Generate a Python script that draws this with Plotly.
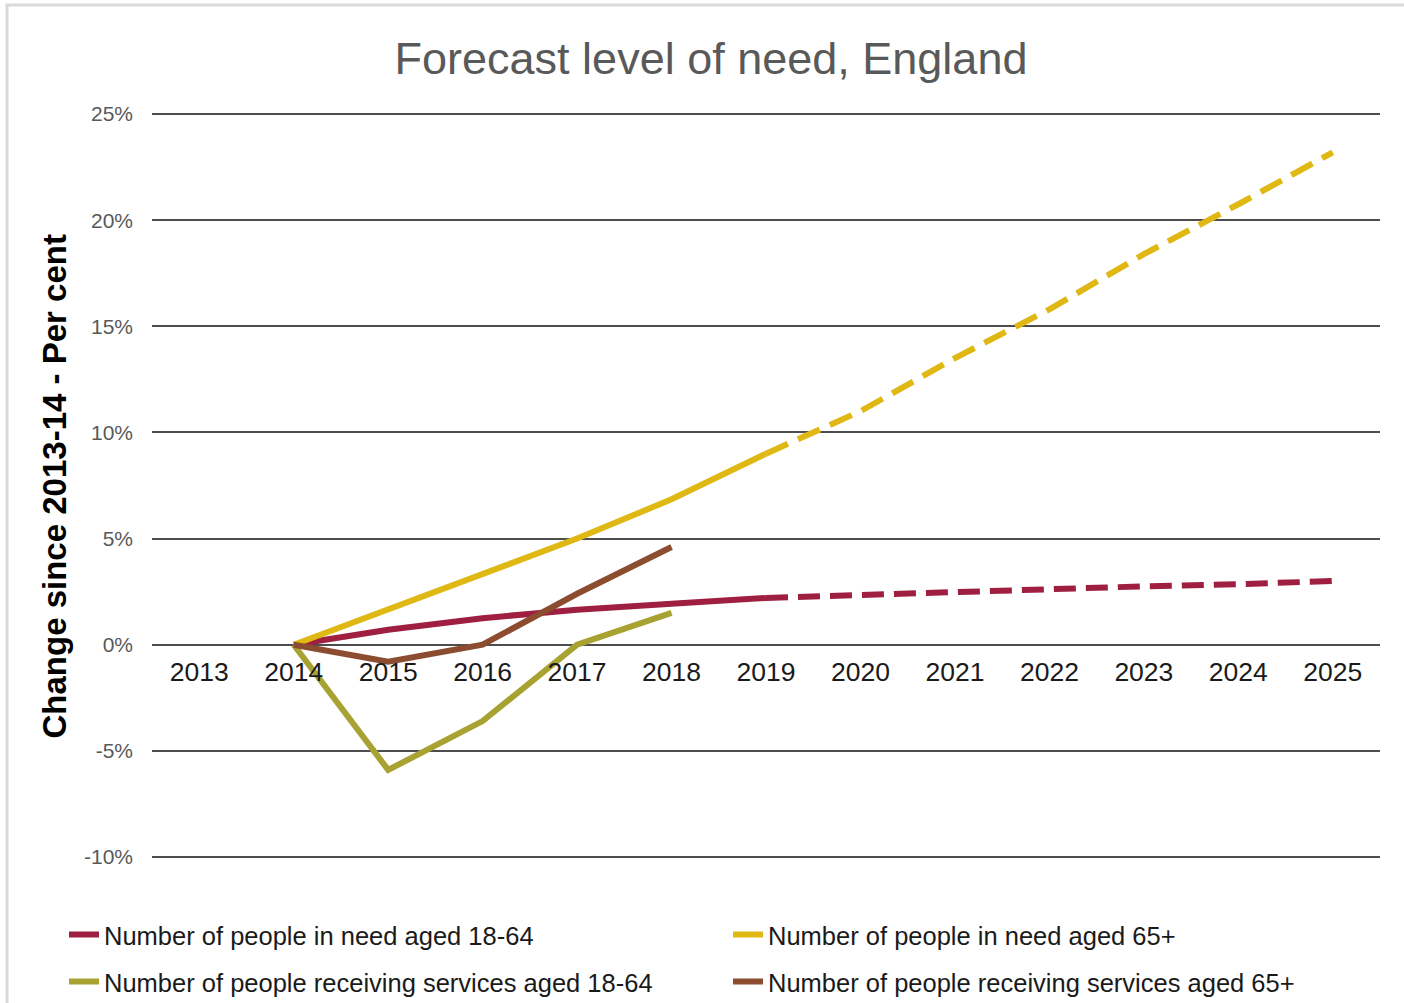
import plotly.graph_objects as go

years = ["2013", "2014", "2015", "2016", "2017", "2018", "2019",
         "2020", "2021", "2022", "2023", "2024", "2025"]

# Actual (solid) series, 2014-2019
actual_years = ["2014", "2015", "2016", "2017", "2018", "2019"]
need_18_64_actual = [0, 0.7, 1.25, 1.65, 1.93, 2.2]
need_65_actual = [0, 1.65, 3.35, 5.0, 6.85, 9.0]

# Forecast (dashed) series, 2019-2025
forecast_years = ["2019", "2020", "2021", "2022", "2023", "2024", "2025"]
need_18_64_forecast = [2.2, 2.35, 2.5, 2.6, 2.75, 2.85, 3.0]
need_65_forecast = [9.0, 11.0, 13.5, 15.8, 18.4, 20.75, 23.2]

# Receiving services, 2014-2018
services_years = ["2014", "2015", "2016", "2017", "2018"]
services_18_64 = [0, -5.9, -3.6, 0, 1.5]
services_65 = [0, -0.8, 0, 2.4, 4.6]

y_ticks = [-10, -5, 0, 5, 10, 15, 20, 25]
y_tick_text = ["-10%", "-5%", "0%", "5%", "10%", "15%", "20%", "25%"]

C_NEED1864 = "#9E1F3F"
C_NEED65 = "#E0B813"
C_SERV1864 = "#A8A232"
C_SERV65 = "#8B4C30"
LW = 6

FONT = "Liberation Sans, Arial"

fig = go.Figure()

fig.add_trace(go.Scatter(x=actual_years, y=need_18_64_actual, mode="lines",
                         line=dict(color=C_NEED1864, width=LW),
                         name="Number of people in need aged 18-64", legend="legend"))
fig.add_trace(go.Scatter(x=actual_years, y=need_65_actual, mode="lines",
                         line=dict(color=C_NEED65, width=LW),
                         name="Number of people in need aged 65+", legend="legend"))
fig.add_trace(go.Scatter(x=services_years, y=services_18_64, mode="lines",
                         line=dict(color=C_SERV1864, width=LW),
                         name="Number of people receiving services aged 18-64", legend="legend2"))
fig.add_trace(go.Scatter(x=services_years, y=services_65, mode="lines",
                         line=dict(color=C_SERV65, width=LW),
                         name="Number of people receiving services aged 65+", legend="legend2"))
fig.add_trace(go.Scatter(x=forecast_years, y=need_18_64_forecast, mode="lines",
                         line=dict(color=C_NEED1864, width=LW, dash="22px,10px"),
                         showlegend=False))
fig.add_trace(go.Scatter(x=forecast_years, y=need_65_forecast, mode="lines",
                         line=dict(color=C_NEED65, width=LW, dash="24px,11px"),
                         showlegend=False))

# plot area: x 152..1380, y ~113..~858 (range padded slightly so edge gridlines draw)
Y0, Y1 = -10.05, 25.05
L, R, T, B = 152, 24, 113, 145
W, H = 1404 - L - R, 1003 - T - B

def px_x(x):
    return (x - L) / W

def px_y(y):
    return (1003 - B - y) / H

legend_common = dict(orientation="h", xanchor="left", yanchor="middle",
                     font=dict(family=FONT, size=25.5, color="#1a1a1a"),
                     bgcolor="rgba(0,0,0,0)", entrywidthmode="pixels", entrywidth=619,
                     itemwidth=30, tracegroupgap=0)

fig.update_layout(
    width=1404, height=1003,
    margin=dict(l=L, r=R, t=T, b=B, autoexpand=False),
    paper_bgcolor="white", plot_bgcolor="white",
    title=dict(text="Forecast level of need, England", x=711 / 1404, xanchor="center",
               y=1 - 58 / 1003, yanchor="middle",
               font=dict(family=FONT, size=45, color="#595959")),
    xaxis=dict(type="category", categoryorder="array", categoryarray=years,
               range=[-0.5, 12.5], showgrid=False, zeroline=False, showline=False,
               ticks="", anchor="free", position=(0 - Y0) / (Y1 - Y0),
               ticklabelstandoff=9,
               tickfont=dict(family=FONT, size=26.5, color="#1a1a1a")),
    yaxis=dict(range=[Y0, Y1], tickmode="array", tickvals=y_ticks, ticktext=y_tick_text,
               showgrid=True, gridcolor="#4d4d4d", gridwidth=1.6,
               zeroline=False, showline=False, ticks="", ticklabelstandoff=18,
               tickfont=dict(family=FONT, size=21, color="#595959")),
    legend=dict(x=px_x(64), y=px_y(935), **legend_common),
    legend2=dict(x=px_x(64), y=px_y(982), **legend_common),
    showlegend=True,
    annotations=[dict(text="<b>Change since 2013-14 - Per cent</b>", textangle=-90,
                      xref="paper", yref="paper", x=px_x(54), y=px_y(486.5),
                      xanchor="center", yanchor="middle", showarrow=False,
                      font=dict(family=FONT, size=33, color="black"))],
    shapes=[dict(type="rect", xref="paper", yref="paper",
                 x0=px_x(7), x1=px_x(1420), y0=px_y(1020), y1=px_y(5),
                 line=dict(color="#D9D9D9", width=3), fillcolor="rgba(0,0,0,0)",
                 layer="below")],
)

fig.write_html("out.html")
